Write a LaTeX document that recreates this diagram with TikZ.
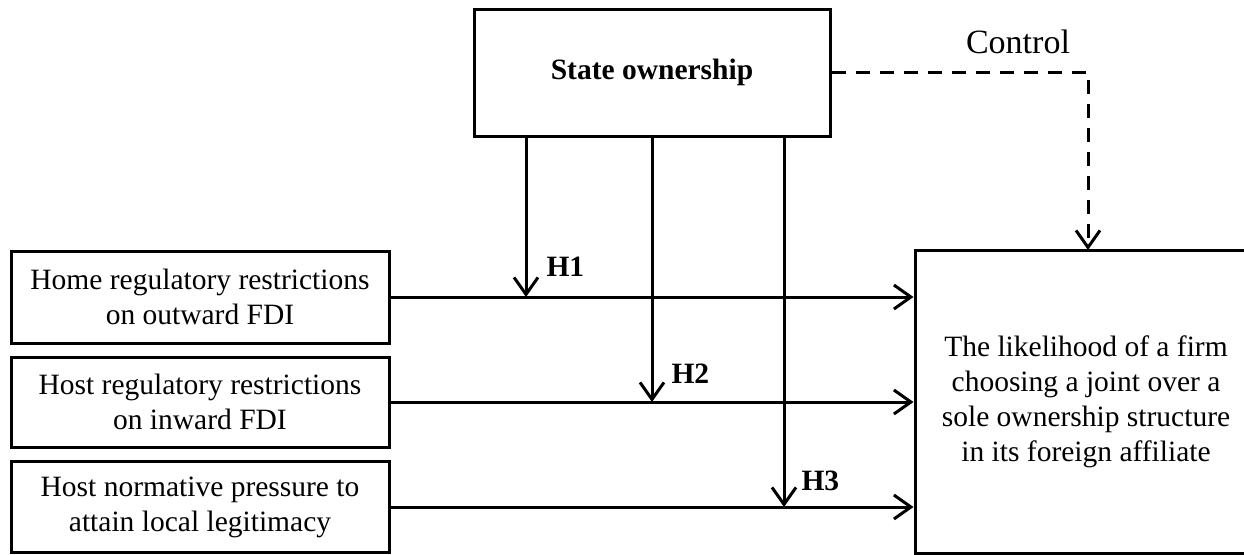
\documentclass[tikz,border=0pt]{standalone}
\usepackage{fontspec}
\setmainfont{Liberation Serif}
\usetikzlibrary{arrows.meta}
\begin{document}
\begin{tikzpicture}[x=1pt,y=-1pt,
  line width=3pt,
  box/.style={draw, rectangle, align=center, inner sep=4pt, font=\fontsize{29.5}{35}\selectfont},
  tip/.style={-{Straight Barb[length=17pt,width=24pt,line width=3pt]}},
  hlab/.style={anchor=west, font=\bfseries\fontsize{29.5}{35}\selectfont, inner sep=0pt}
]
\useasboundingbox (0,0) rectangle (1244,554);
\clip (0,0) rectangle (1244,554);
\node[box, minimum width=356pt, minimum height=127pt] (so) at (652,72.5) {\textbf{State ownership}};
\node[box, minimum width=378pt, minimum height=92pt] (b1) at (200,297) {Home regulatory restrictions\\on outward FDI};
\node[box, minimum width=378pt, minimum height=90pt] (b2) at (200,402) {Host regulatory restrictions\\on inward FDI};
\node[box, minimum width=378pt, minimum height=91pt] (b3) at (200,507) {Host normative pressure to\\attain local legitimacy};
\node[box, minimum width=342pt, minimum height=303pt] (out) at (1086,401.5) {The likelihood of a firm\\choosing a joint over a\\sole ownership structure\\in its foreign affiliate};
\node[font=\fontsize{34}{40}\selectfont, inner sep=0pt] (ctl) at (1018,42) {Control};
% moderation points
\coordinate (m1) at (526,297);
\coordinate (m2) at (652,402);
\coordinate (m3) at (784,507);
\coordinate (c1) at (1088,250);
% main effects
\draw[tip] (b1.east) -- (b1.east -| out.west);
\draw[tip] (b2.east) -- (b2.east -| out.west);
\draw[tip] (b3.east) -- (b3.east -| out.west);
% moderators
\draw[tip] (so.south -| m1) -- (m1);
\draw[tip] (so.south -| m2) -- (m2);
\draw[tip] (so.south -| m3) -- (m3);
\node[hlab] (h1) at ([xshift=19pt,yshift=30pt]m1) {H1};
\node[hlab] (h2) at ([xshift=18pt,yshift=28pt]m2) {H2};
\node[hlab] (h3) at ([xshift=16pt,yshift=26pt]m3) {H3};
% control
\draw[tip, dash pattern=on 14pt off 10pt] (so.east) -| (c1);
\end{tikzpicture}
\end{document}
